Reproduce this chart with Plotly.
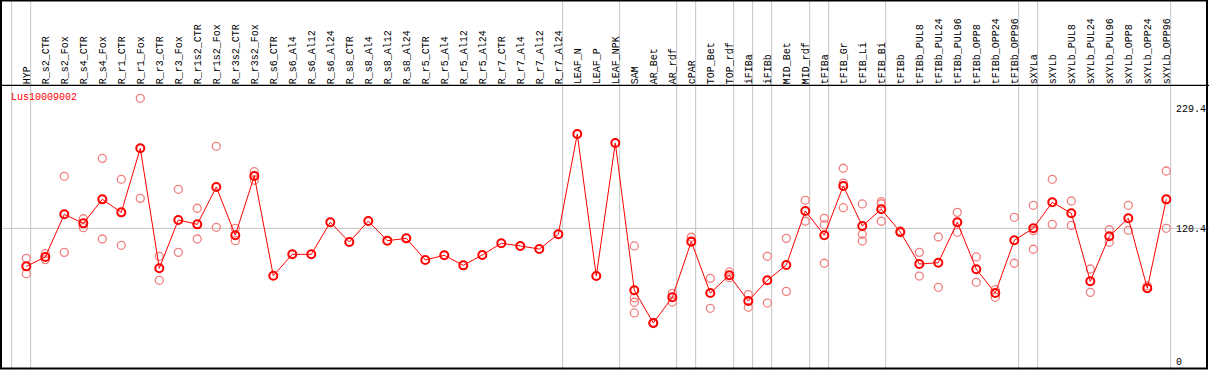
import plotly.graph_objects as go

categories = [
    "HYP", "R_s2_CTR", "R_s2_Fox", "R_s4_CTR", "R_s4_Fox", "R_r1_CTR", "R_r1_Fox",
    "R_r3_CTR", "R_r3_Fox", "R_r1s2_CTR", "R_r1s2_Fox", "R_r3s2_CTR", "R_r3s2_Fox",
    "R_s6_CTR", "R_s6_Al4", "R_s6_Al12", "R_s6_Al24", "R_s8_CTR", "R_s8_Al4",
    "R_s8_Al12", "R_s8_Al24", "R_r5_CTR", "R_r5_Al4", "R_r5_Al12", "R_r5_Al24",
    "R_r7_CTR", "R_r7_Al4", "R_r7_Al12", "R_r7_Al24", "LEAF_N", "LEAF_P", "LEAF_NPK",
    "SAM", "AR_Bet", "AR_rdf", "cPAR", "TOP_Bet", "TOP_rdf", "iFIBa", "iFIBb",
    "MID_Bet", "MID_rdf", "tFIBa", "tFIB_Gr", "tFIB_Li", "tFIB_Bi", "tFIBb",
    "tFIBb_PUL8", "tFIBb_PUL24", "tFIBb_PUL96", "tFIBb_OPP8", "tFIBb_OPP24",
    "tFIBb_OPP96", "sXYLa", "sXYLb", "sXYLb_PUL8", "sXYLb_PUL24", "sXYLb_PUL96",
    "sXYLb_OPP8", "sXYLb_OPP24", "sXYLb_OPP96",
]

mean_values = [
    85.9, 94.4, 133.1, 124.9, 146.7, 134.9, 193.0, 84.1, 128.0, 124.0, 157.9, 114.1,
    167.9, 77.4, 96.8, 96.8, 125.9, 108.0, 127.0, 109.2, 111.3, 91.7, 95.9, 86.8,
    96.2, 106.8, 104.4, 101.6, 115.0, 206.0, 77.1, 197.8, 64.2, 34.5, 57.8, 108.3,
    61.7, 77.8, 54.4, 73.2, 87.1, 136.1, 114.1, 158.8, 122.5, 137.7, 117.1, 88.0,
    89.2, 125.9, 83.2, 61.7, 109.5, 120.4, 144.0, 134.0, 72.3, 113.2, 129.5, 66.0,
    146.7,
]

replicate_values = [
    [93.2, 79.2], [97.4, 92.0], [167.6, 98.6], [129.1, 121.0], [183.9, 110.7],
    [164.9, 105.0], [238.4, 147.6], [95.0, 73.2], [155.8, 98.6], [138.6, 110.7],
    [194.8, 121.3], [120.4, 109.2], [171.8, 164.0],
    [], [], [], [], [], [], [], [], [], [], [], [], [], [], [], [], [], [], [],
    [104.4, 57.4, 53.3, 43.6], [35.0, 34.0], [61.4, 53.5], [112.3, 109.0],
    [75.0, 47.8], [80.8, 75.6], [60.2, 48.7], [95.0, 52.6], [111.3, 63.2],
    [145.8, 126.8], [129.5, 123.7, 88.7], [174.9, 161.5, 139.1],
    [142.5, 115.0, 108.9], [144.6, 142.7, 126.8], [118.0, 116.5],
    [98.6, 77.1], [112.5, 66.9], [134.9, 116.8], [94.4, 71.4], [64.7, 57.8],
    [130.4, 88.7], [141.3, 118.2, 101.4], [164.9, 124.0], [145.2, 123.1],
    [83.5, 62.3], [119.1, 107.7], [141.3, 118.6], [68.1, 66.0], [172.4, 120.4],
]

group_boundaries_after = [-1, 0, 28, 31, 34, 35, 37, 38, 39, 41, 42, 45, 52, 53, 60]
y_ticks = [0, 120.4, 229.4]
y_tick_text = ["0", "120.4", "229.4"]
reference_line = 120.4
gene_id = "Lus10009002"

W, H = 1209, 370
FONT = "Liberation Mono"

x_index = list(range(len(categories)))
rep_x, rep_y = [], []
for i, reps in enumerate(replicate_values):
    for v in reps:
        rep_x.append(i)
        rep_y.append(v)

fig = go.Figure()
fig.add_trace(go.Scatter(
    x=rep_x, y=rep_y, mode="markers", showlegend=False,
    marker=dict(symbol="circle-open", size=8, color="#f08080", line=dict(width=1.3)),
))
fig.add_trace(go.Scatter(
    x=x_index, y=mean_values, mode="lines+markers", showlegend=False,
    line=dict(color="#ff0000", width=1),
    marker=dict(symbol="circle-open", size=8, color="#ff0000", line=dict(width=2)),
))

header_y = 1 - 85.3 / H

shapes = []
for b in group_boundaries_after:
    shapes.append(dict(type="line", xref="x", yref="paper", x0=b + 0.23, x1=b + 0.23,
                       y0=0, y1=1, line=dict(color="#c4c4c4", width=1), layer="below"))
shapes.append(dict(type="line", xref="paper", yref="y", x0=0, x1=1,
                   y0=reference_line, y1=reference_line,
                   line=dict(color="#c4c4c4", width=1), layer="below"))
shapes.append(dict(type="line", xref="paper", yref="paper", x0=0, x1=1,
                   y0=header_y, y1=header_y, line=dict(color="black", width=1.2)))
shapes.append(dict(type="rect", xref="paper", yref="paper",
                   x0=1 / W, x1=1207 / W, y0=1 - 368.5 / H, y1=1 - 0.5 / H,
                   line=dict(color="black", width=2)))

fig.update_layout(
    width=W, height=H,
    margin=dict(l=0, r=0, t=0, b=0),
    paper_bgcolor="white", plot_bgcolor="white",
    font=dict(family=FONT, size=10, color="black"),
    hovermode=False,
    xaxis=dict(
        range=[-26.3 / 19, (W - 26.3) / 19],
        tickmode="array", tickvals=x_index, ticktext=categories,
        side="top", anchor="free", position=header_y + 1 / H,
        tickangle=-90, ticks="", showgrid=False, zeroline=False, showline=False,
        tickfont=dict(family=FONT, size=10, color="black"), automargin=False,
    ),
    yaxis=dict(
        range=[-9 / 1.102, 361 / 1.102],
        tickmode="array", tickvals=y_ticks, ticktext=y_tick_text,
        side="right", anchor="free", position=1175 / W,
        ticks="", showgrid=False, zeroline=False, showline=False,
        tickfont=dict(family=FONT, size=10, color="black"), automargin=False,
    ),
    shapes=shapes,
    annotations=[dict(text=gene_id, xref="paper", yref="paper", x=9 / W, y=1 - 98 / H,
                      xanchor="left", yanchor="middle", showarrow=False,
                      font=dict(family=FONT, size=10, color="#ff0000"))],
)

fig.write_html("out.html", config={"displayModeBar": False},
               post_script="document.body.style.margin='0';document.body.style.overflow='hidden';")
